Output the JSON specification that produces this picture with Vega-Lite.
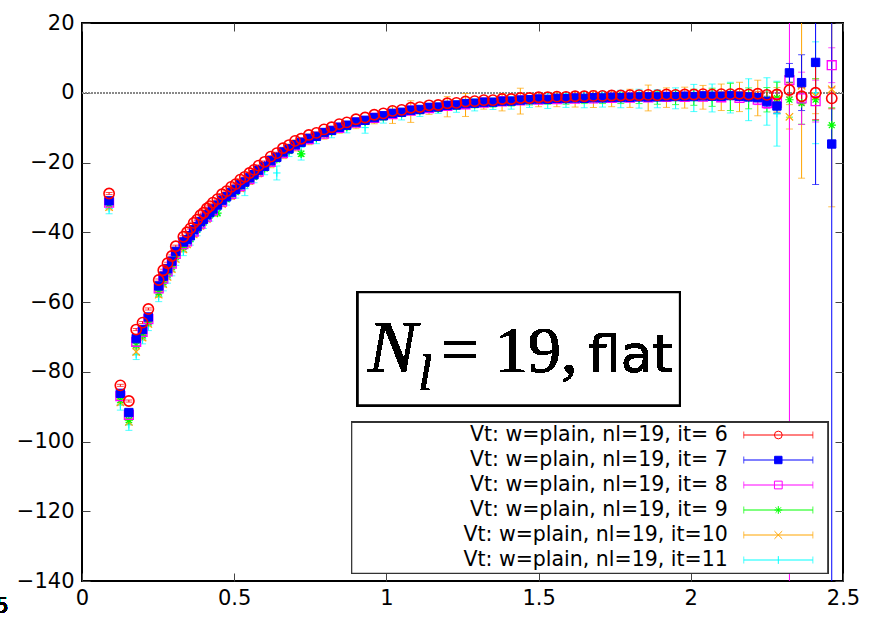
{
"$schema": "https://vega.github.io/schema/vega-lite/v6.json",
"width": 761, "height": 558,
"autosize": {"type": "none"},
"padding": {"left": 82, "top": 23, "right": 26, "bottom": 36},
"background": "white",
"config": {
  "view": {"stroke": "black", "strokeWidth": 2},
  "legend": {"disable": true},
  "axis": {"grid": false, "domain": false, "tickColor": "#444", "tickWidth": 1, "tickSize": -8, "labelFont": "DejaVu Sans", "labelFontSize": 21, "labelColor": "black", "labelFlush": false}
},
"data": {"values": [
{"s":11,"r":0.089,"v":-33.2,"e":1.5},{"s":11,"r":0.126,"v":-89.5,"e":1.5},{"s":11,"r":0.154,"v":-95.2,"e":1.6},{"s":11,"r":0.178,"v":-75.0,"e":1.5},{"s":11,"r":0.199,"v":-70.6,"e":1.4},{"s":11,"r":0.218,"v":-66.8,"e":1.4},{"s":11,"r":0.252,"v":-58.4,"e":1.5},{"s":11,"r":0.267,"v":-55.6,"e":1.2},{"s":11,"r":0.281,"v":-53.4,"e":1.2},{"s":11,"r":0.295,"v":-51.2,"e":1.3},{"s":11,"r":0.308,"v":-48.3,"e":1.2},{"s":11,"r":0.333,"v":-45.5,"e":1.2},
{"s":11,"r":0.356,"v":-42.7,"e":1.0},{"s":11,"r":0.378,"v":-40.0,"e":1.0},{"s":11,"r":0.399,"v":-37.9,"e":1.0},{"s":11,"r":0.42,"v":-35.8,"e":1.0},{"s":11,"r":0.445,"v":-33.7,"e":1.1},{"s":11,"r":0.475,"v":-31.2,"e":1.0},{"s":11,"r":0.505,"v":-29.1,"e":1.1},{"s":11,"r":0.535,"v":-27.5,"e":2.0},{"s":11,"r":0.565,"v":-24.7,"e":1.1},{"s":11,"r":0.6,"v":-22.2,"e":1.3},{"s":11,"r":0.64,"v":-23.0,"e":2.0},{"s":11,"r":0.68,"v":-17.0,"e":1.3},{"s":11,"r":0.72,"v":-17.5,"e":1.8},{"s":11,"r":0.77,"v":-13.3,"e":1.3},{"s":11,"r":0.82,"v":-11.6,"e":1.3},{"s":11,"r":0.87,"v":-10.1,"e":1.4},{"s":11,"r":0.93,"v":-10.0,"e":1.6},{"s":11,"r":0.99,"v":-7.3,"e":1.4},{"s":11,"r":1.05,"v":-6.2,"e":1.6},{"s":11,"r":1.11,"v":-5.3,"e":1.5},{"s":11,"r":1.17,"v":-4.6,"e":1.3},{"s":11,"r":1.23,"v":-4.0,"e":1.6},{"s":11,"r":1.29,"v":-3.5,"e":1.7},{"s":11,"r":1.35,"v":-3.2,"e":1.6},{"s":11,"r":1.41,"v":-2.9,"e":1.8},{"s":11,"r":1.47,"v":-2.5,"e":1.7},{"s":11,"r":1.53,"v":-2.3,"e":2.2},{"s":11,"r":1.59,"v":-2.2,"e":2.0},{"s":11,"r":1.65,"v":-2.0,"e":2.3},{"s":11,"r":1.71,"v":-1.9,"e":2.2},{"s":11,"r":1.77,"v":-1.8,"e":2.5},{"s":11,"r":1.83,"v":-1.7,"e":2.7},{"s":11,"r":1.89,"v":-1.7,"e":2.6},{"s":11,"r":1.95,"v":-1.6,"e":3.0},{"s":11,"r":2.01,"v":-1.5,"e":3.9},{"s":11,"r":2.07,"v":-1.5,"e":4.0},{"s":11,"r":2.13,"v":-1.4,"e":4.4},{"s":11,"r":2.19,"v":-2.0,"e":6.0},{"s":11,"r":2.25,"v":-2.5,"e":6.8},{"s":11,"r":2.283,"v":-6.0,"e":9.3},{"s":11,"r":2.41,"v":0.0,"e":14.6},
{"s":10,"r":0.089,"v":-32.8,"e":0.8},{"s":10,"r":0.126,"v":-88.8,"e":0.8},{"s":10,"r":0.154,"v":-94.4,"e":0.8},{"s":10,"r":0.178,"v":-74.3,"e":0.9},{"s":10,"r":0.199,"v":-70.2,"e":0.8},{"s":10,"r":0.218,"v":-66.3,"e":0.8},{"s":10,"r":0.252,"v":-57.9,"e":0.8},{"s":10,"r":0.267,"v":-54.9,"e":0.8},{"s":10,"r":0.281,"v":-52.8,"e":0.8},{"s":10,"r":0.295,"v":-50.6,"e":0.8},{"s":10,"r":0.308,"v":-47.7,"e":0.8},{"s":10,"r":0.333,"v":-44.9,"e":0.8},
{"s":10,"r":0.345,"v":-43.5,"e":0.8},{"s":10,"r":0.367,"v":-40.6,"e":0.8},{"s":10,"r":0.389,"v":-38.2,"e":0.9},{"s":10,"r":0.41,"v":-36.2,"e":0.8},{"s":10,"r":0.43,"v":-34.4,"e":0.9},{"s":10,"r":0.46,"v":-31.9,"e":0.8},{"s":10,"r":0.49,"v":-29.6,"e":1.0},{"s":10,"r":0.52,"v":-27.4,"e":0.9},{"s":10,"r":0.55,"v":-25.3,"e":1.0},{"s":10,"r":0.58,"v":-23.1,"e":1.0},{"s":10,"r":0.62,"v":-20.3,"e":1.2},{"s":10,"r":0.66,"v":-17.8,"e":1.1},{"s":10,"r":0.7,"v":-15.5,"e":1.2},{"s":10,"r":0.745,"v":-13.7,"e":1.2},{"s":10,"r":0.795,"v":-12.0,"e":1.3},{"s":10,"r":0.845,"v":-10.4,"e":1.2},{"s":10,"r":0.9,"v":-8.9,"e":1.4},{"s":10,"r":0.96,"v":-7.5,"e":1.4},{"s":10,"r":1.02,"v":-6.4,"e":2.4},{"s":10,"r":1.08,"v":-5.4,"e":3.1},{"s":10,"r":1.14,"v":-4.7,"e":1.5},{"s":10,"r":1.2,"v":-4.0,"e":2.9},{"s":10,"r":1.26,"v":-3.5,"e":3.3},{"s":10,"r":1.32,"v":-3.1,"e":1.6},{"s":10,"r":1.38,"v":-2.7,"e":2.5},{"s":10,"r":1.44,"v":-2.4,"e":3.7},{"s":10,"r":1.5,"v":-2.2,"e":1.8},{"s":10,"r":1.56,"v":-2.0,"e":2.0},{"s":10,"r":1.62,"v":-1.9,"e":2.2},{"s":10,"r":1.68,"v":-1.8,"e":2.4},{"s":10,"r":1.74,"v":-1.7,"e":2.3},{"s":10,"r":1.8,"v":-1.6,"e":2.6},{"s":10,"r":1.86,"v":-1.5,"e":3.7},{"s":10,"r":1.92,"v":-1.4,"e":2.8},{"s":10,"r":1.98,"v":-1.4,"e":3.0},{"s":10,"r":2.04,"v":-1.3,"e":3.4},{"s":10,"r":2.1,"v":-1.3,"e":3.8},{"s":10,"r":2.16,"v":-1.2,"e":4.2},{"s":10,"r":2.22,"v":-1.5,"e":5.1},{"s":10,"r":2.283,"v":-2.0,"e":3.5},{"s":10,"r":2.324,"v":-6.9,"e":3.5},{"s":10,"r":2.364,"v":2.0,"e":26.5},{"s":10,"r":2.41,"v":-1.0,"e":5.0},{"s":10,"r":2.463,"v":1.0,"e":33.7},
{"s":9,"r":0.089,"v":-32.0,"e":0.6},{"s":9,"r":0.126,"v":-88.2,"e":0.6},{"s":9,"r":0.154,"v":-93.9,"e":0.6},{"s":9,"r":0.178,"v":-72.4,"e":0.6},{"s":9,"r":0.199,"v":-69.6,"e":0.6},{"s":9,"r":0.218,"v":-65.8,"e":0.6},{"s":9,"r":0.252,"v":-57.3,"e":0.6},{"s":9,"r":0.267,"v":-54.4,"e":0.6},{"s":9,"r":0.281,"v":-52.2,"e":0.6},{"s":9,"r":0.295,"v":-50.0,"e":0.6},{"s":9,"r":0.308,"v":-47.1,"e":0.6},{"s":9,"r":0.333,"v":-44.3,"e":0.6},
{"s":9,"r":0.356,"v":-42.0,"e":0.5},{"s":9,"r":0.378,"v":-39.3,"e":0.5},{"s":9,"r":0.399,"v":-37.2,"e":0.6},{"s":9,"r":0.42,"v":-35.2,"e":0.5},{"s":9,"r":0.445,"v":-34.5,"e":0.8},{"s":9,"r":0.475,"v":-30.6,"e":0.5},{"s":9,"r":0.505,"v":-28.5,"e":0.6},{"s":9,"r":0.535,"v":-26.3,"e":0.6},{"s":9,"r":0.565,"v":-24.2,"e":0.6},{"s":9,"r":0.6,"v":-21.7,"e":0.7},{"s":9,"r":0.64,"v":-19.1,"e":0.7},{"s":9,"r":0.68,"v":-16.7,"e":0.7},{"s":9,"r":0.72,"v":-17.5,"e":0.8},{"s":9,"r":0.77,"v":-12.9,"e":0.7},{"s":9,"r":0.82,"v":-11.2,"e":0.7},{"s":9,"r":0.87,"v":-9.8,"e":0.8},{"s":9,"r":0.93,"v":-8.3,"e":0.8},{"s":9,"r":0.99,"v":-7.0,"e":0.8},{"s":9,"r":1.05,"v":-5.9,"e":0.9},{"s":9,"r":1.11,"v":-5.1,"e":0.9},{"s":9,"r":1.17,"v":-4.5,"e":0.9},{"s":9,"r":1.23,"v":-3.8,"e":1.0},{"s":9,"r":1.29,"v":-3.3,"e":1.0},{"s":9,"r":1.35,"v":-3.0,"e":1.1},{"s":9,"r":1.41,"v":-2.7,"e":1.1},{"s":9,"r":1.47,"v":-2.3,"e":1.2},{"s":9,"r":1.53,"v":-2.1,"e":1.2},{"s":9,"r":1.59,"v":-2.0,"e":1.3},{"s":9,"r":1.65,"v":-1.8,"e":1.3},{"s":9,"r":1.71,"v":-1.7,"e":1.4},{"s":9,"r":1.77,"v":-1.6,"e":1.5},{"s":9,"r":1.83,"v":-1.5,"e":1.6},{"s":9,"r":1.89,"v":-1.5,"e":1.8},{"s":9,"r":1.95,"v":-1.4,"e":2.0},{"s":9,"r":2.01,"v":-1.3,"e":2.3},{"s":9,"r":2.07,"v":-1.3,"e":2.6},{"s":9,"r":2.13,"v":-1.2,"e":3.9},{"s":9,"r":2.19,"v":-1.6,"e":3.0},{"s":9,"r":2.25,"v":-2.0,"e":3.5},{"s":9,"r":2.283,"v":-1.5,"e":4.5},{"s":9,"r":2.324,"v":-2.0,"e":5.0},{"s":9,"r":2.364,"v":-3.0,"e":6.0},{"s":9,"r":2.41,"v":-2.0,"e":6.0},{"s":9,"r":2.463,"v":-9.3,"e":5.0},
{"s":8,"r":0.089,"v":-31.5,"e":0.4},{"s":8,"r":0.126,"v":-87.0,"e":0.4},{"s":8,"r":0.154,"v":-92.4,"e":0.4},{"s":8,"r":0.178,"v":-71.4,"e":0.4},{"s":8,"r":0.199,"v":-68.6,"e":0.4},{"s":8,"r":0.218,"v":-64.9,"e":0.4},{"s":8,"r":0.252,"v":-56.1,"e":0.4},{"s":8,"r":0.267,"v":-53.3,"e":0.4},{"s":8,"r":0.281,"v":-51.2,"e":0.4},{"s":8,"r":0.295,"v":-49.0,"e":0.4},{"s":8,"r":0.308,"v":-46.2,"e":0.4},{"s":8,"r":0.333,"v":-43.4,"e":0.4},
{"s":8,"r":0.345,"v":-42.6,"e":0.3},{"s":8,"r":0.367,"v":-39.8,"e":0.3},{"s":8,"r":0.389,"v":-37.5,"e":0.3},{"s":8,"r":0.41,"v":-35.5,"e":0.3},{"s":8,"r":0.43,"v":-33.7,"e":0.3},{"s":8,"r":0.46,"v":-31.2,"e":0.3},{"s":8,"r":0.49,"v":-29.0,"e":0.3},{"s":8,"r":0.52,"v":-26.8,"e":0.3},{"s":8,"r":0.55,"v":-24.8,"e":0.3},{"s":8,"r":0.58,"v":-22.6,"e":0.4},{"s":8,"r":0.62,"v":-19.8,"e":0.4},{"s":8,"r":0.66,"v":-17.3,"e":0.4},{"s":8,"r":0.7,"v":-15.1,"e":0.4},{"s":8,"r":0.745,"v":-13.3,"e":0.4},{"s":8,"r":0.795,"v":-11.7,"e":0.4},{"s":8,"r":0.845,"v":-10.1,"e":0.4},{"s":8,"r":0.9,"v":-8.6,"e":0.4},{"s":8,"r":0.96,"v":-7.2,"e":0.4},{"s":8,"r":1.02,"v":-6.1,"e":0.4},{"s":8,"r":1.08,"v":-5.1,"e":0.4},{"s":8,"r":1.14,"v":-4.4,"e":0.4},{"s":8,"r":1.2,"v":-3.8,"e":0.5},{"s":8,"r":1.26,"v":-3.3,"e":0.5},{"s":8,"r":1.32,"v":-2.8,"e":0.5},{"s":8,"r":1.38,"v":-2.5,"e":0.5},{"s":8,"r":1.44,"v":-2.2,"e":0.5},{"s":8,"r":1.5,"v":-2.0,"e":0.5},{"s":8,"r":1.56,"v":-1.8,"e":0.6},{"s":8,"r":1.62,"v":-1.7,"e":0.6},{"s":8,"r":1.68,"v":-1.6,"e":0.6},{"s":8,"r":1.74,"v":-1.5,"e":0.7},{"s":8,"r":1.8,"v":-1.4,"e":0.8},{"s":8,"r":1.86,"v":-1.3,"e":0.8},{"s":8,"r":1.92,"v":-1.2,"e":0.8},{"s":8,"r":1.98,"v":-1.2,"e":0.9},{"s":8,"r":2.04,"v":-1.1,"e":1.0},{"s":8,"r":2.1,"v":-1.3,"e":1.0},{"s":8,"r":2.16,"v":-1.5,"e":1.2},{"s":8,"r":2.22,"v":-2.0,"e":1.4},{"s":8,"r":2.25,"v":-3.0,"e":1.5},{"s":8,"r":2.283,"v":-3.0,"e":3.0},{"s":8,"r":2.324,"v":3.6,"e":200},{"s":8,"r":2.364,"v":-1.6,"e":7.5},{"s":8,"r":2.41,"v":-2.4,"e":6.0},{"s":8,"r":2.463,"v":7.9,"e":5.0},
{"s":7,"r":0.089,"v":-31.0,"e":0.35},{"s":7,"r":0.126,"v":-86.2,"e":0.35},{"s":7,"r":0.154,"v":-91.7,"e":0.35},{"s":7,"r":0.178,"v":-70.5,"e":0.35},{"s":7,"r":0.199,"v":-67.9,"e":0.35},{"s":7,"r":0.218,"v":-64.3,"e":0.35},{"s":7,"r":0.252,"v":-55.4,"e":0.35},{"s":7,"r":0.267,"v":-52.6,"e":0.35},{"s":7,"r":0.281,"v":-50.5,"e":0.35},{"s":7,"r":0.295,"v":-48.3,"e":0.35},{"s":7,"r":0.308,"v":-45.5,"e":0.35},{"s":7,"r":0.333,"v":-42.8,"e":0.35},
{"s":7,"r":0.345,"v":-42.1,"e":0.25},{"s":7,"r":0.356,"v":-41.0,"e":0.25},{"s":7,"r":0.367,"v":-39.3,"e":0.25},{"s":7,"r":0.378,"v":-38.4,"e":0.25},{"s":7,"r":0.389,"v":-37.0,"e":0.25},{"s":7,"r":0.399,"v":-36.3,"e":0.25},{"s":7,"r":0.41,"v":-35.0,"e":0.25},{"s":7,"r":0.42,"v":-34.3,"e":0.25},{"s":7,"r":0.43,"v":-33.3,"e":0.25},{"s":7,"r":0.445,"v":-32.2,"e":0.25},{"s":7,"r":0.46,"v":-30.8,"e":0.25},{"s":7,"r":0.475,"v":-29.8,"e":0.25},{"s":7,"r":0.49,"v":-28.6,"e":0.25},{"s":7,"r":0.505,"v":-27.7,"e":0.25},{"s":7,"r":0.52,"v":-26.4,"e":0.25},{"s":7,"r":0.535,"v":-25.6,"e":0.25},{"s":7,"r":0.55,"v":-24.4,"e":0.25},{"s":7,"r":0.565,"v":-23.5,"e":0.25},{"s":7,"r":0.58,"v":-22.2,"e":0.25},{"s":7,"r":0.6,"v":-21.1,"e":0.3},{"s":7,"r":0.62,"v":-19.5,"e":0.3},{"s":7,"r":0.64,"v":-18.5,"e":0.3},{"s":7,"r":0.66,"v":-17.0,"e":0.3},{"s":7,"r":0.68,"v":-16.1,"e":0.3},{"s":7,"r":0.7,"v":-14.9,"e":0.3},{"s":7,"r":0.72,"v":-14.2,"e":0.3},{"s":7,"r":0.745,"v":-13.1,"e":0.3},{"s":7,"r":0.77,"v":-12.5,"e":0.3},{"s":7,"r":0.795,"v":-11.4,"e":0.3},{"s":7,"r":0.82,"v":-10.8,"e":0.3},{"s":7,"r":0.845,"v":-9.9,"e":0.3},{"s":7,"r":0.87,"v":-9.3,"e":0.3},{"s":7,"r":0.9,"v":-8.4,"e":0.3},{"s":7,"r":0.93,"v":-7.9,"e":0.3},{"s":7,"r":0.96,"v":-7.1,"e":0.3},{"s":7,"r":0.99,"v":-6.6,"e":0.3},{"s":7,"r":1.02,"v":-5.9,"e":0.3},{"s":7,"r":1.05,"v":-5.6,"e":0.3},{"s":7,"r":1.08,"v":-5.0,"e":0.3},{"s":7,"r":1.11,"v":-4.8,"e":0.3},{"s":7,"r":1.14,"v":-4.2,"e":0.3},{"s":7,"r":1.17,"v":-4.1,"e":0.3},{"s":7,"r":1.2,"v":-3.6,"e":0.4},{"s":7,"r":1.23,"v":-3.5,"e":0.4},{"s":7,"r":1.26,"v":-3.1,"e":0.4},{"s":7,"r":1.29,"v":-3.0,"e":0.4},{"s":7,"r":1.32,"v":-2.7,"e":0.4},{"s":7,"r":1.35,"v":-2.7,"e":0.4},{"s":7,"r":1.38,"v":-2.4,"e":0.4},{"s":7,"r":1.41,"v":-2.4,"e":0.4},{"s":7,"r":1.44,"v":-2.1,"e":0.4},{"s":7,"r":1.47,"v":-2.0,"e":0.4},{"s":7,"r":1.5,"v":-1.8,"e":0.4},{"s":7,"r":1.53,"v":-1.9,"e":0.4},{"s":7,"r":1.56,"v":-1.6,"e":0.4},{"s":7,"r":1.59,"v":-1.7,"e":0.4},{"s":7,"r":1.62,"v":-1.5,"e":0.4},{"s":7,"r":1.65,"v":-1.6,"e":0.4},{"s":7,"r":1.68,"v":-1.4,"e":0.4},{"s":7,"r":1.71,"v":-1.5,"e":0.4},{"s":7,"r":1.74,"v":-1.3,"e":0.4},{"s":7,"r":1.77,"v":-1.4,"e":0.4},{"s":7,"r":1.8,"v":-1.3,"e":0.6},{"s":7,"r":1.83,"v":-1.2,"e":0.6},{"s":7,"r":1.86,"v":-1.2,"e":0.6},{"s":7,"r":1.89,"v":-1.2,"e":0.6},{"s":7,"r":1.92,"v":-1.1,"e":0.6},{"s":7,"r":1.95,"v":-1.1,"e":0.6},{"s":7,"r":1.98,"v":-1.0,"e":0.6},{"s":7,"r":2.01,"v":-1.1,"e":0.6},{"s":7,"r":2.04,"v":-0.9,"e":0.6},{"s":7,"r":2.07,"v":-1.0,"e":0.6},{"s":7,"r":2.1,"v":-1.0,"e":0.8},{"s":7,"r":2.13,"v":-0.8,"e":0.8},{"s":7,"r":2.16,"v":-1.0,"e":0.9},{"s":7,"r":2.19,"v":-1.2,"e":1.0},{"s":7,"r":2.22,"v":-1.4,"e":1.2},{"s":7,"r":2.25,"v":-2.5,"e":1.5},{"s":7,"r":2.283,"v":-3.8,"e":2.0},{"s":7,"r":2.324,"v":5.7,"e":2.7},{"s":7,"r":2.364,"v":2.9,"e":8.0},{"s":7,"r":2.41,"v":8.7,"e":35.0},{"s":7,"r":2.463,"v":-14.7,"e":200},
{"s":6,"r":0.089,"v":-28.9,"e":0.3},{"s":6,"r":0.126,"v":-83.9,"e":0.3},{"s":6,"r":0.154,"v":-88.4,"e":0.3},{"s":6,"r":0.178,"v":-67.9,"e":0.3},{"s":6,"r":0.199,"v":-65.9,"e":0.3},{"s":6,"r":0.218,"v":-62.0,"e":0.3},{"s":6,"r":0.252,"v":-53.7,"e":0.3},{"s":6,"r":0.267,"v":-50.9,"e":0.3},{"s":6,"r":0.281,"v":-48.9,"e":0.3},{"s":6,"r":0.295,"v":-46.8,"e":0.3},{"s":6,"r":0.308,"v":-44.0,"e":0.3},{"s":6,"r":0.333,"v":-41.3,"e":0.3},
{"s":6,"r":0.345,"v":-40.0,"e":0.2},{"s":6,"r":0.356,"v":-38.9,"e":0.2},{"s":6,"r":0.367,"v":-37.3,"e":0.2},{"s":6,"r":0.378,"v":-36.4,"e":0.2},{"s":6,"r":0.389,"v":-35.1,"e":0.2},{"s":6,"r":0.399,"v":-34.4,"e":0.2},{"s":6,"r":0.41,"v":-33.2,"e":0.2},{"s":6,"r":0.42,"v":-32.5,"e":0.2},{"s":6,"r":0.43,"v":-31.5,"e":0.2},{"s":6,"r":0.445,"v":-30.5,"e":0.2},{"s":6,"r":0.46,"v":-29.1,"e":0.2},{"s":6,"r":0.475,"v":-28.2,"e":0.2},{"s":6,"r":0.49,"v":-27.0,"e":0.2},{"s":6,"r":0.505,"v":-26.2,"e":0.2},{"s":6,"r":0.52,"v":-24.9,"e":0.2},{"s":6,"r":0.535,"v":-24.1,"e":0.2},{"s":6,"r":0.55,"v":-23.0,"e":0.2},{"s":6,"r":0.565,"v":-22.1,"e":0.2},{"s":6,"r":0.58,"v":-20.9,"e":0.2},{"s":6,"r":0.6,"v":-19.8,"e":0.25},{"s":6,"r":0.62,"v":-18.3,"e":0.25},{"s":6,"r":0.64,"v":-17.3,"e":0.25},{"s":6,"r":0.66,"v":-15.9,"e":0.25},{"s":6,"r":0.68,"v":-15.0,"e":0.25},{"s":6,"r":0.7,"v":-13.8,"e":0.25},{"s":6,"r":0.72,"v":-13.2,"e":0.25},{"s":6,"r":0.745,"v":-12.1,"e":0.25},{"s":6,"r":0.77,"v":-11.5,"e":0.25},{"s":6,"r":0.795,"v":-10.5,"e":0.25},{"s":6,"r":0.82,"v":-9.9,"e":0.25},{"s":6,"r":0.845,"v":-9.0,"e":0.25},{"s":6,"r":0.87,"v":-8.5,"e":0.25},{"s":6,"r":0.9,"v":-7.6,"e":0.25},{"s":6,"r":0.93,"v":-7.1,"e":0.25},{"s":6,"r":0.96,"v":-6.3,"e":0.25},{"s":6,"r":0.99,"v":-5.9,"e":0.25},{"s":6,"r":1.02,"v":-5.2,"e":0.25},{"s":6,"r":1.05,"v":-4.9,"e":0.25},{"s":6,"r":1.08,"v":-4.3,"e":0.25},{"s":6,"r":1.11,"v":-4.1,"e":0.25},{"s":6,"r":1.14,"v":-3.6,"e":0.25},{"s":6,"r":1.17,"v":-3.5,"e":0.25},{"s":6,"r":1.2,"v":-3.0,"e":0.3},{"s":6,"r":1.23,"v":-2.9,"e":0.3},{"s":6,"r":1.26,"v":-2.5,"e":0.3},{"s":6,"r":1.29,"v":-2.4,"e":0.3},{"s":6,"r":1.32,"v":-2.1,"e":0.3},{"s":6,"r":1.35,"v":-2.1,"e":0.3},{"s":6,"r":1.38,"v":-1.8,"e":0.3},{"s":6,"r":1.41,"v":-1.8,"e":0.3},{"s":6,"r":1.44,"v":-1.5,"e":0.3},{"s":6,"r":1.47,"v":-1.5,"e":0.3},{"s":6,"r":1.5,"v":-1.3,"e":0.3},{"s":6,"r":1.53,"v":-1.3,"e":0.3},{"s":6,"r":1.56,"v":-1.1,"e":0.3},{"s":6,"r":1.59,"v":-1.2,"e":0.3},{"s":6,"r":1.62,"v":-1.0,"e":0.3},{"s":6,"r":1.65,"v":-1.0,"e":0.3},{"s":6,"r":1.68,"v":-0.9,"e":0.3},{"s":6,"r":1.71,"v":-0.9,"e":0.3},{"s":6,"r":1.74,"v":-0.8,"e":0.3},{"s":6,"r":1.77,"v":-0.8,"e":0.3},{"s":6,"r":1.8,"v":-0.7,"e":0.4},{"s":6,"r":1.83,"v":-0.7,"e":0.4},{"s":6,"r":1.86,"v":-0.6,"e":0.4},{"s":6,"r":1.89,"v":-0.7,"e":0.4},{"s":6,"r":1.92,"v":-0.5,"e":0.4},{"s":6,"r":1.95,"v":-0.6,"e":0.4},{"s":6,"r":1.98,"v":-0.5,"e":0.4},{"s":6,"r":2.01,"v":-0.5,"e":0.4},{"s":6,"r":2.04,"v":-0.4,"e":0.4},{"s":6,"r":2.07,"v":-0.5,"e":0.4},{"s":6,"r":2.1,"v":-0.4,"e":0.6},{"s":6,"r":2.13,"v":-0.4,"e":0.6},{"s":6,"r":2.16,"v":-0.3,"e":0.6},{"s":6,"r":2.19,"v":-0.5,"e":0.6},{"s":6,"r":2.22,"v":-0.3,"e":0.6},{"s":6,"r":2.25,"v":-0.6,"e":0.8},{"s":6,"r":2.283,"v":-0.5,"e":1.2},{"s":6,"r":2.324,"v":0.8,"e":2.0},{"s":6,"r":2.364,"v":-1.0,"e":2.5},{"s":6,"r":2.41,"v":0.0,"e":7.7},{"s":6,"r":2.463,"v":-1.6,"e":3.0}
]},
"resolve": {"scale": {"y": "independent"}, "axis": {"x": "independent", "y": "independent"}},
"layer": [
 {"resolve": {"axis": {"x": "independent", "y": "independent"}},
  "layer": [
  {"mark": {"type": "rule", "color": "#888888", "strokeDash": [1.5, 1.5], "strokeWidth": 1},
   "encoding": {"y": {"datum": 0, "type": "quantitative", "axis": null}}},
  {"mark": {"type": "errorbar", "ticks": {"size": 7}, "thickness": 1, "clip": true},
   "encoding": {
     "x": {"field": "r", "type": "quantitative", "scale": {"domain": [0, 2.5], "nice": false, "zero": false},
           "axis": {"orient": "bottom", "title": null, "values": [0, 0.5, 1, 1.5, 2, 2.5], "labelExpr": "'' + datum.value", "labelPadding": 14}},
     "y": {"field": "v", "type": "quantitative", "scale": {"domain": [-140, 20], "nice": false, "zero": false},
           "axis": {"orient": "left", "title": null, "values": [-140, -120, -100, -80, -60, -40, -20, 0, 20], "labelPadding": 16}},
     "yError": {"field": "e"},
     "color": {"field": "s", "type": "nominal", "scale": {"domain": [6, 7, 8, 9, 10, 11], "range": ["#ff0000", "#0000ff", "#ff00ff", "#00ff00", "#ffa500", "#00ffff"]}}
   }},
  {"transform": [{"filter": "datum.s == 11"}],
   "mark": {"type": "point", "filled": false, "strokeWidth": 1, "opacity": 1, "clip": true, "shape": "M-1,0H1M0,-1V1", "size": 55},
   "encoding": {"x": {"field": "r", "type": "quantitative", "axis": null}, "y": {"field": "v", "type": "quantitative", "axis": null}, "color": {"field": "s", "type": "nominal"}}},
  {"transform": [{"filter": "datum.s == 10"}],
   "mark": {"type": "point", "filled": false, "strokeWidth": 1.2, "opacity": 1, "clip": true, "shape": "M-1,-1L1,1M-1,1L1,-1", "size": 55},
   "encoding": {"x": {"field": "r", "type": "quantitative", "axis": null}, "y": {"field": "v", "type": "quantitative", "axis": null}, "color": {"field": "s", "type": "nominal"}}},
  {"transform": [{"filter": "datum.s == 9"}],
   "mark": {"type": "point", "filled": false, "strokeWidth": 1.2, "opacity": 1, "clip": true, "shape": "M-1,0H1M0,-1V1M-0.7,-0.7L0.7,0.7M-0.7,0.7L0.7,-0.7", "size": 70},
   "encoding": {"x": {"field": "r", "type": "quantitative", "axis": null}, "y": {"field": "v", "type": "quantitative", "axis": null}, "color": {"field": "s", "type": "nominal"}}},
  {"transform": [{"filter": "datum.s == 8"}],
   "mark": {"type": "point", "filled": false, "strokeWidth": 1.3, "opacity": 1, "clip": true, "shape": "square", "size": 80},
   "encoding": {"x": {"field": "r", "type": "quantitative", "axis": null}, "y": {"field": "v", "type": "quantitative", "axis": null}, "color": {"field": "s", "type": "nominal"}}},
  {"transform": [{"filter": "datum.s == 7"}],
   "mark": {"type": "point", "filled": false, "fill": "#0000ff", "fillOpacity": 1, "strokeWidth": 1, "opacity": 1, "clip": true, "shape": "square", "size": 70},
   "encoding": {"x": {"field": "r", "type": "quantitative", "axis": null}, "y": {"field": "v", "type": "quantitative", "axis": null}, "color": {"field": "s", "type": "nominal"}}},
  {"transform": [{"filter": "datum.s == 6"}],
   "mark": {"type": "point", "filled": false, "strokeWidth": 1.6, "opacity": 1, "clip": true, "shape": "circle", "size": 105},
   "encoding": {"x": {"field": "r", "type": "quantitative", "axis": null}, "y": {"field": "v", "type": "quantitative", "axis": null}, "color": {"field": "s", "type": "nominal"}}},
  {"mark": {"type": "rect", "fill": "white", "stroke": "#333333", "strokeWidth": 1.2},
   "encoding": {"x": {"datum": 0.886, "type": "quantitative", "axis": null}, "x2": {"datum": 2.45},
                "y": {"datum": -94.5, "type": "quantitative", "axis": null}, "y2": {"datum": -137.8}}},
  {"mark": {"type": "rect", "fill": "white", "stroke": "black", "strokeWidth": 2},
   "encoding": {"x": {"datum": 0.906, "type": "quantitative", "axis": {"orient": "top", "title": null, "labels": false, "values": [0, 0.5, 1, 1.5, 2, 2.5]}}, "x2": {"datum": 1.964},
                "y": {"datum": -57.2, "type": "quantitative", "axis": {"orient": "right", "title": null, "labels": false, "values": [-140, -120, -100, -80, -60, -40, -20, 0, 20]}}, "y2": {"datum": -89.6}}},
  {"mark": {"type": "text", "text": "N", "font": "Liberation Serif", "fontStyle": "italic", "fontSize": 74, "align": "left", "baseline": "alphabetic", "color": "black"},
   "encoding": {"x": {"datum": 0.939, "type": "quantitative", "axis": null}, "y": {"datum": -80.1, "type": "quantitative", "axis": null}}},
  {"mark": {"type": "text", "text": "l", "font": "Liberation Serif", "fontStyle": "italic", "fontSize": 50, "align": "left", "baseline": "alphabetic", "color": "black"},
   "encoding": {"x": {"datum": 1.105, "type": "quantitative", "axis": null}, "y": {"datum": -85.3, "type": "quantitative", "axis": null}}},
  {"mark": {"type": "text", "text": "= 19,", "font": "Liberation Serif", "fontSize": 66, "align": "left", "baseline": "alphabetic", "color": "black"},
   "encoding": {"x": {"datum": 1.18, "type": "quantitative", "axis": null}, "y": {"datum": -80.1, "type": "quantitative", "axis": null}}},
  {"mark": {"type": "text", "text": "flat", "font": "DejaVu Sans", "fontSize": 52, "align": "left", "baseline": "alphabetic", "color": "black"},
   "encoding": {"x": {"datum": 1.662, "type": "quantitative", "axis": null}, "y": {"datum": -80.1, "type": "quantitative", "axis": null}}},
  {"mark": {"type": "text", "text": "2.5", "font": "DejaVu Sans", "fontSize": 21, "align": "center", "baseline": "alphabetic", "color": "black"},
   "encoding": {"x": {"datum": -0.296, "type": "quantitative", "axis": null}, "y": {"datum": -149.3, "type": "quantitative", "axis": null}}}
  ]},
 {"data": {"values": [
    {"s": 6, "label": "Vt: w=plain, nl=19, it= 6"},
    {"s": 7, "label": "Vt: w=plain, nl=19, it= 7"},
    {"s": 8, "label": "Vt: w=plain, nl=19, it= 8"},
    {"s": 9, "label": "Vt: w=plain, nl=19, it= 9"},
    {"s": 10, "label": "Vt: w=plain, nl=19, it=10"},
    {"s": 11, "label": "Vt: w=plain, nl=19, it=11"}
  ]},
  "layer": [
   {"mark": {"type": "rule", "strokeWidth": 1},
    "encoding": {"x": {"datum": 2.174, "type": "quantitative", "axis": null}, "x2": {"datum": 2.401},
                 "y": {"field": "s", "type": "quantitative", "scale": {"domain": [-10.48, 11.84], "reverse": true, "nice": false, "zero": false}, "axis": null},
                 "color": {"field": "s", "type": "nominal"}}},
   {"mark": {"type": "tick", "orient": "vertical", "size": 7, "thickness": 1},
    "encoding": {"x": {"datum": 2.174, "type": "quantitative", "axis": null}, "y": {"field": "s", "type": "quantitative", "axis": null}, "color": {"field": "s", "type": "nominal"}}},
   {"mark": {"type": "tick", "orient": "vertical", "size": 7, "thickness": 1},
    "encoding": {"x": {"datum": 2.401, "type": "quantitative", "axis": null}, "y": {"field": "s", "type": "quantitative", "axis": null}, "color": {"field": "s", "type": "nominal"}}},
   {"transform": [{"filter": "datum.s != 7"}],
    "mark": {"type": "point", "filled": false, "strokeWidth": 1, "opacity": 1, "size": 60},
    "encoding": {"x": {"datum": 2.2875, "type": "quantitative", "axis": null}, "y": {"field": "s", "type": "quantitative", "axis": null}, "color": {"field": "s", "type": "nominal"},
                 "shape": {"field": "s", "type": "nominal", "scale": {"domain": [6, 8, 9, 10, 11], "range": ["circle", "square", "M-1,0H1M0,-1V1M-0.7,-0.7L0.7,0.7M-0.7,0.7L0.7,-0.7", "M-1,-1L1,1M-1,1L1,-1", "M0,-1V1"]}}}},
   {"transform": [{"filter": "datum.s == 7"}],
    "mark": {"type": "point", "filled": false, "fill": "#0000ff", "fillOpacity": 1, "strokeWidth": 1, "opacity": 1, "shape": "square", "size": 55},
    "encoding": {"x": {"datum": 2.2875, "type": "quantitative", "axis": null}, "y": {"field": "s", "type": "quantitative", "axis": null}, "color": {"field": "s", "type": "nominal"}}},
   {"mark": {"type": "text", "align": "right", "baseline": "middle", "font": "DejaVu Sans", "fontSize": 20.5, "color": "black"},
    "encoding": {"x": {"datum": 2.1216, "type": "quantitative", "axis": null}, "y": {"field": "s", "type": "quantitative", "axis": null}, "text": {"field": "label"}}}
  ]}
]
}
